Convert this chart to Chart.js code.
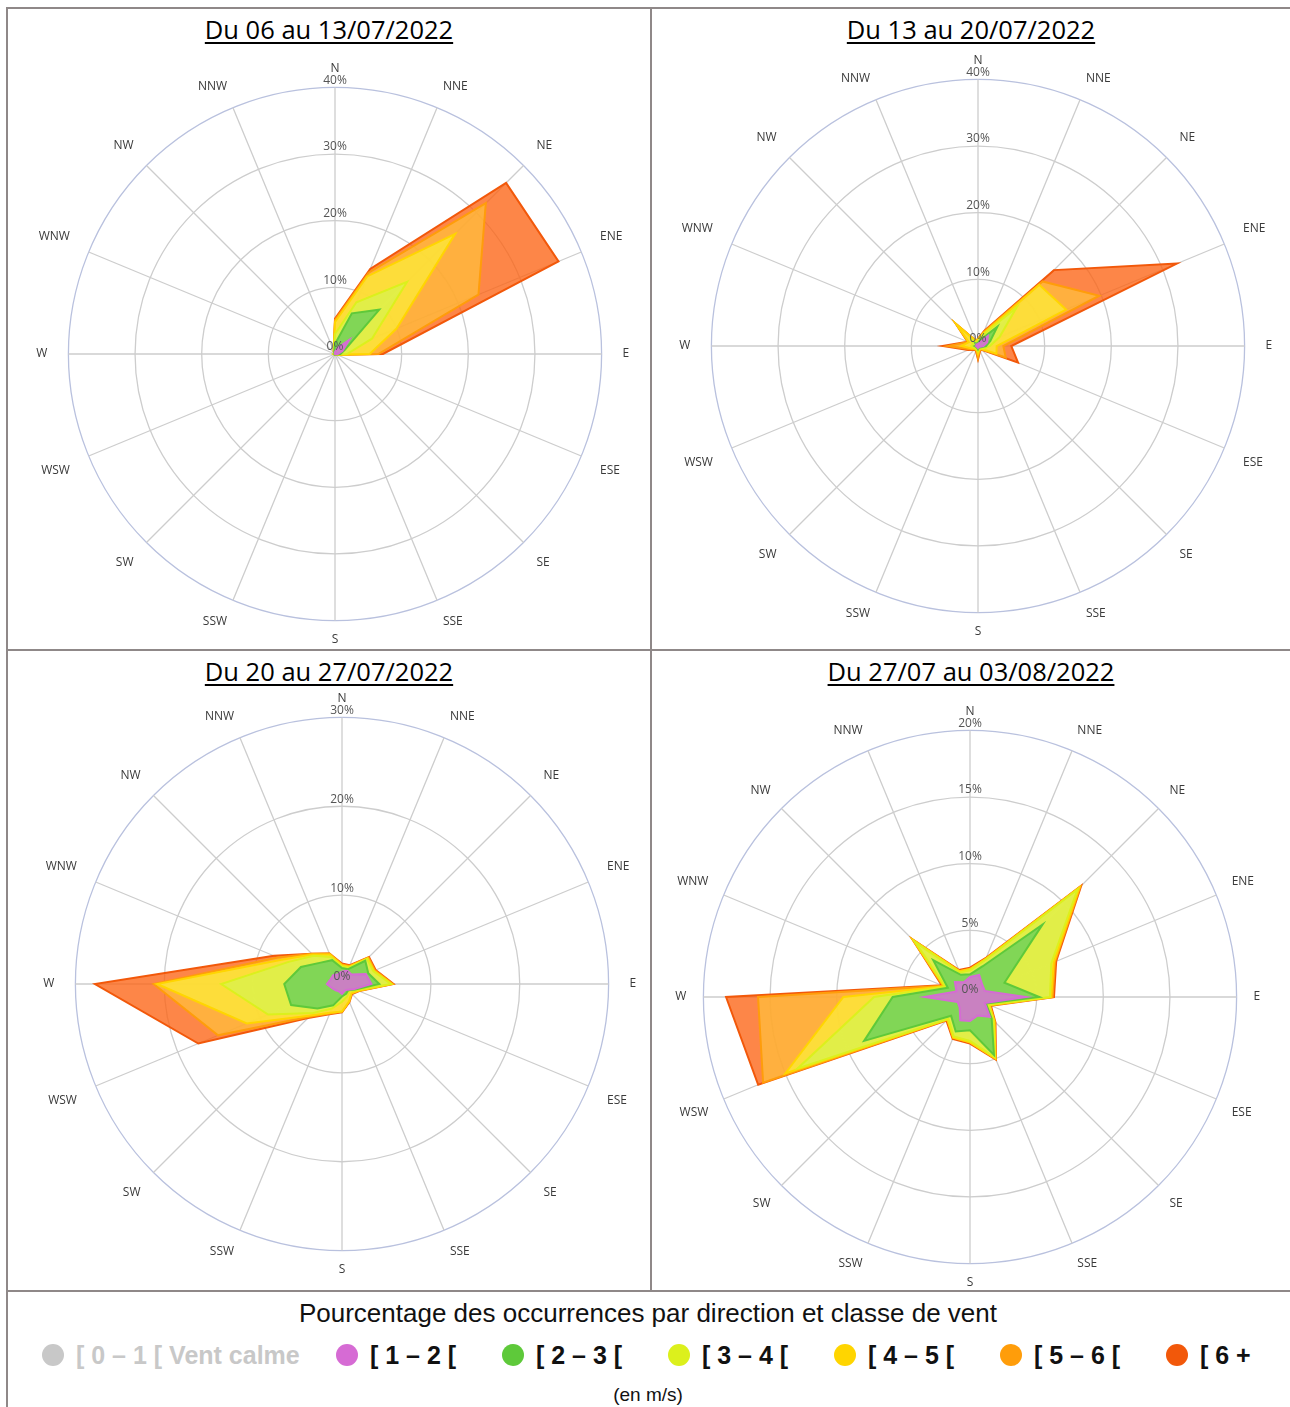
<!DOCTYPE html>
<html lang="fr">
<head>
<meta charset="utf-8">
<script src="https://cdn.jsdelivr.net/npm/chart.js@4.4.0/dist/chart.umd.min.js"></script>
<style>
  body { margin:0; width:1290px; height:1407px; background:#fff; position:relative; overflow:hidden; font-family:"Open Sans", sans-serif; }
  .line { position:absolute; background:#8f8888; z-index:5; }
  .title { position:absolute; width:644px; text-align:center; font-size:25.5px; line-height:32px; color:#000; text-decoration:underline; text-underline-offset:3px; }
  .rose { position:absolute; width:660px; height:586px; }
  #legendTitle { position:absolute; left:0; width:1296px; top:1297px; text-align:center; font-family:"Liberation Sans", sans-serif; font-size:26px; line-height:32px; color:#111; }
  .item { position:absolute; top:1340px; height:30px; display:flex; align-items:center; font-family:"Liberation Sans", sans-serif; font-weight:bold; font-size:25px; color:#111; white-space:pre; }
  .dot { width:22px; height:22px; border-radius:50%; margin-right:12px; }
  #unit { position:absolute; left:0; width:1296px; top:1384px; text-align:center; font-family:"Liberation Sans", sans-serif; font-size:19px; color:#111; }
</style>
</head>
<body>
<div class="line" style="left:7px; top:7px; width:1283px; height:2px;"></div>
<div class="line" style="left:6px; top:7px; width:2px; height:1400px;"></div>
<div class="line" style="left:650px; top:7px; width:2px; height:1285px;"></div>
<div class="line" style="left:7px; top:649px; width:1283px; height:2px;"></div>
<div class="line" style="left:7px; top:1290px; width:1283px; height:2px;"></div>

<div class="title" style="left:7px; top:13px;">Du 06 au 13/07/2022</div>
<div class="title" style="left:649px; top:13px;">Du 13 au 20/07/2022</div>
<div class="title" style="left:7px; top:655px;">Du 20 au 27/07/2022</div>
<div class="title" style="left:649px; top:655px;">Du 27/07 au 03/08/2022</div>

<div class="rose" style="left:5px; top:61px;"><canvas id="rose1" width="660" height="586"></canvas></div>
<div class="rose" style="left:648px; top:53px;"><canvas id="rose2" width="660" height="586"></canvas></div>
<div class="rose" style="left:12px; top:691px;"><canvas id="rose3" width="660" height="586"></canvas></div>
<div class="rose" style="left:640px; top:704px;"><canvas id="rose4" width="660" height="586"></canvas></div>

<div id="legendTitle">Pourcentage des occurrences par direction et classe de vent</div>
<div id="legend"></div>
<div id="unit">(en m/s)</div>

<script>
// directions, clockwise from North
const directions = ['N', 'NNE', 'NE', 'ENE', 'E', 'ESE', 'SE', 'SSE', 'S', 'SSW', 'SW', 'WSW', 'W', 'WNW', 'NW', 'NNW'];

// wind classes (m/s)
const classLabels = ['[ 0 – 1 [ Vent calme', '[ 1 – 2 [', '[ 2 – 3 [', '[ 3 – 4 [', '[ 4 – 5 [', '[ 5 – 6 [', '[ 6 +'];
const classColors = ['#c8c8c8', '#d66bd4', '#5ec93a', '#dcf01c', '#ffd500', '#ff9d0a', '#f2580a'];
const classFills = ['rgba(0,0,0,0)', 'rgba(232,92,240,0.7)', 'rgba(88,204,92,0.7)', 'rgba(214,246,80,0.7)', 'rgba(252,240,56,0.7)', 'rgba(255,192,60,0.72)', 'rgba(252,100,20,0.78)'];

// cumulative % per direction (outline of each class as read on the roses)
// week 1 : 06 -> 13/07/2022
const w1_12 = [0.3, 1.0, 3.0, 1.2, 0.4, 0.1, 0, 0, 0, 0, 0, 0, 0.1, 0, 0, 0.1];
const w1_23 = [1.5, 6.6, 9.4, 1.6, 0.8, 0.2, 0.1, 0.1, 0.1, 0.1, 0.1, 0.1, 0.1, 0.1, 0.1, 0.3];
const w1_34 = [3.0, 8.4, 15.3, 6.0, 1.8, 0.2, 0.1, 0.1, 0.1, 0.1, 0.1, 0.1, 0.2, 0.1, 0.2, 0.4];
const w1_45 = [4.8, 12.6, 25.5, 10.0, 5.2, 0.3, 0.1, 0.1, 0.1, 0.1, 0.1, 0.1, 0.2, 0.2, 0.2, 0.5];
const w1_56 = [5.1, 13.2, 32.0, 23.3, 6.5, 0.3, 0.1, 0.1, 0.1, 0.1, 0.1, 0.1, 0.2, 0.2, 0.2, 0.5];
const w1_6p = [5.3, 13.8, 36.3, 36.3, 7.2, 0.3, 0.1, 0.1, 0.1, 0.1, 0.1, 0.1, 0.2, 0.2, 0.2, 0.5];

// week 2 : 13 -> 20/07/2022
const w2_12 = [0.3, 0.5, 2.1, 1.5, 0.8, 0.3, 0.2, 0.2, 0.3, 0.2, 0.2, 0.2, 0.3, 0.2, 0.3, 0.2];
const w2_23 = [0.5, 1.0, 4.1, 2.0, 1.2, 0.5, 0.3, 0.3, 0.5, 0.3, 0.3, 0.3, 0.5, 0.3, 0.6, 0.4];
const w2_34 = [0.8, 1.8, 8.2, 3.5, 1.8, 1.0, 0.5, 0.5, 0.8, 0.5, 0.5, 0.6, 1.0, 0.8, 1.5, 0.6];
const w2_45 = [1.0, 2.0, 13.0, 14.3, 2.8, 3.0, 0.6, 0.6, 1.2, 0.6, 0.6, 1.0, 2.5, 1.5, 4.6, 0.8];
const w2_56 = [1.0, 2.3, 13.7, 19.7, 3.8, 4.5, 0.7, 0.7, 1.8, 0.7, 0.7, 1.3, 4.5, 1.6, 4.6, 0.8];
const w2_6p = [1.1, 2.5, 16.1, 32.3, 5.0, 6.5, 0.8, 0.8, 2.0, 0.8, 0.8, 1.6, 5.3, 1.7, 4.7, 0.9];

// week 3 : 20 -> 27/07/2022
const w3_12 = [1.4, 1.6, 1.5, 2.9, 3.3, 1.5, 0.9, 0.8, 1.1, 0.9, 1.0, 1.2, 1.7, 1.4, 1.4, 1.2];
const w3_23 = [1.8, 1.8, 3.7, 3.2, 4.2, 1.6, 1.0, 1.2, 1.4, 2.6, 3.9, 6.2, 6.5, 5.0, 3.4, 2.9];
const w3_34 = [2.0, 2.0, 4.0, 3.8, 5.5, 1.8, 1.2, 1.5, 2.0, 3.0, 4.6, 9.0, 13.6, 6.5, 4.5, 3.3];
const w3_45 = [2.1, 2.1, 4.1, 3.9, 5.6, 2.0, 1.5, 2.1, 3.1, 3.5, 5.0, 11.6, 20.8, 7.2, 4.7, 3.6];
const w3_56 = [2.2, 2.2, 4.2, 4.0, 5.7, 2.0, 1.5, 2.1, 3.1, 3.6, 5.2, 15.1, 21.2, 7.8, 4.8, 3.7];
const w3_6p = [2.3, 2.3, 4.3, 4.1, 5.8, 2.1, 1.6, 2.2, 3.2, 3.7, 5.4, 17.5, 27.8, 8.3, 4.8, 3.7];

// week 4 : 27/07 -> 03/08/2022
const w4_12 = [1.5, 1.8, 1.3, 1.2, 4.2, 1.2, 2.1, 1.5, 1.8, 1.9, 1.1, 1.0, 3.4, 1.1, 1.6, 1.2];
const w4_23 = [1.7, 2.5, 7.7, 2.8, 5.2, 1.3, 2.3, 4.7, 2.5, 2.8, 2.0, 8.6, 5.8, 1.8, 3.9, 1.8];
const w4_34 = [2.0, 3.0, 11.4, 6.6, 6.0, 1.5, 2.5, 4.9, 3.3, 3.2, 2.3, 14.0, 7.2, 2.0, 5.8, 2.0];
const w4_45 = [2.1, 3.1, 11.6, 6.8, 6.1, 1.6, 2.6, 5.0, 3.4, 3.3, 2.4, 15.0, 9.5, 2.1, 6.0, 2.1];
const w4_56 = [2.1, 3.1, 11.7, 6.9, 6.2, 1.6, 2.6, 5.0, 3.4, 3.3, 2.4, 16.8, 15.9, 2.2, 6.1, 2.1];
const w4_6p = [2.2, 3.2, 11.8, 7.0, 6.3, 1.7, 2.7, 5.1, 3.5, 3.4, 2.5, 17.2, 18.3, 2.3, 6.1, 2.2];

// percent labels drawn just above each ring, on the north axis
const tickLabels = {
  id: 'tickLabels',
  afterDatasetsDraw(chart) {
    const s = chart.scales.r;
    const ctx = chart.ctx;
    ctx.save();
    ctx.font = '12px "Open Sans"';
    ctx.fillStyle = '#555';
    ctx.textAlign = 'center';
    ctx.textBaseline = 'middle';
    s.ticks.forEach(t => {
      const d = s.getDistanceFromCenterForValue(t.value);
      ctx.fillText(t.value + '%', s.xCenter, s.yCenter - d - 7);
    });
    ctx.restore();
  }
};

function makeRose(id, series, max, step, sidePad) {
  const datasets = series.map((values, i) => ({
    label: classLabels[i + 1],
    data: values,
    borderColor: classColors[i + 1],
    backgroundColor: classFills[i + 1],
    borderWidth: 2,
    fill: true
  }));
  new Chart(document.getElementById(id), {
    type: 'radar',
    data: { labels: directions, datasets },
    options: {
      responsive: false,
      animation: false,
      plugins: { legend: { display: false }, tooltip: { enabled: false } },
      elements: { line: { tension: 0 }, point: { radius: 0, hitRadius: 0 } },
      scales: {
        r: {
          min: 0,
          max: max,
          ticks: { stepSize: step, display: false },
          grid: {
            circular: true,
            color: c => (c.tick && c.tick.value === max ? '#b9c1de' : '#cdcdcd'),
            lineWidth: 1.3
          },
          angleLines: { color: '#cdcdcd', lineWidth: 1.3 },
          pointLabels: {
            font: { family: 'Open Sans', size: 12 },
            color: '#3a3a3a',
            // labels sit further out on the east / west sides
            padding: c => 12 + sidePad * Math.abs(Math.sin(c.index * Math.PI / 8))
          }
        }
      }
    },
    plugins: [tickLabels]
  });
}

makeRose('rose1', [w1_12, w1_23, w1_34, w1_45, w1_56, w1_6p], 40, 10, 9);
makeRose('rose2', [w2_12, w2_23, w2_34, w2_45, w2_56, w2_6p], 40, 10, 9);
makeRose('rose3', [w3_12, w3_23, w3_34, w3_45, w3_56, w3_6p], 30, 10, 9);
makeRose('rose4', [w4_12, w4_23, w4_34, w4_45, w4_56, w4_6p], 20, 5, 5);

// legend
const legendX = [42, 336, 502, 668, 834, 1000, 1166];
const legend = document.getElementById('legend');
classLabels.forEach((label, i) => {
  const item = document.createElement('div');
  item.className = 'item';
  item.style.left = legendX[i] + 'px';
  if (i === 0) item.style.color = '#c8c8c8';
  const dot = document.createElement('span');
  dot.className = 'dot';
  dot.style.background = classColors[i];
  item.appendChild(dot);
  item.appendChild(document.createTextNode(label));
  legend.appendChild(item);
});
</script>
</body>
</html>
